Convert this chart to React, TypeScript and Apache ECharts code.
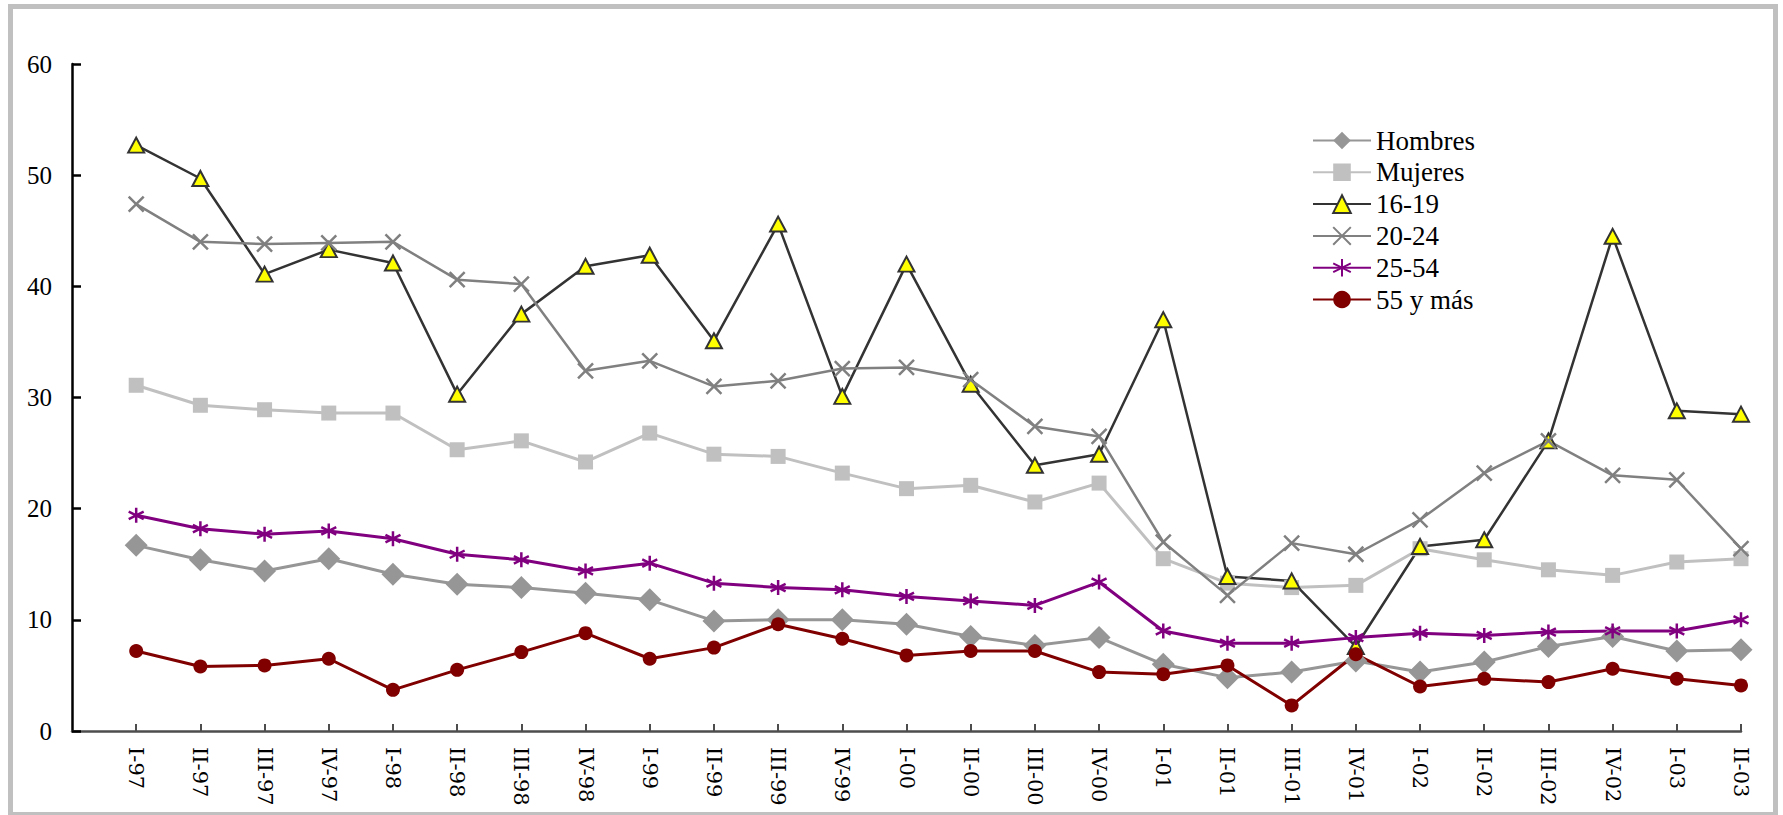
import React, { useEffect, useRef } from "react";
import * as echarts from "echarts";

const categories = [
  "I-97", "II-97", "III-97", "IV-97",
  "I-98", "II-98", "III-98", "IV-98",
  "I-99", "II-99", "III-99", "IV-99",
  "I-00", "II-00", "III-00", "IV-00",
  "I-01", "II-01", "III-01", "IV-01",
  "I-02", "II-02", "III-02", "IV-02",
  "I-03", "II-03",
];

const hombres = [16.7, 15.4, 14.4, 15.5, 14.1, 13.2, 12.9, 12.4, 11.8, 9.9, 10.0, 10.0, 9.6, 8.5, 7.7, 8.4, 6.0, 4.8, 5.3, 6.3, 5.3, 6.2, 7.6, 8.5, 7.2, 7.3];
const mujeres = [31.1, 29.3, 28.9, 28.6, 28.6, 25.3, 26.1, 24.2, 26.8, 24.9, 24.7, 23.2, 21.8, 22.1, 20.6, 22.3, 15.5, 13.3, 12.9, 13.1, 16.4, 15.4, 14.5, 14.0, 15.2, 15.5];
const age16_19 = [52.7, 49.7, 41.1, 43.3, 42.1, 30.3, 37.5, 41.8, 42.8, 35.1, 45.6, 30.1, 42.0, 31.2, 23.9, 24.9, 37.0, 13.9, 13.5, 7.6, 16.6, 17.2, 26.1, 44.5, 28.8, 28.5];
const age20_24 = [47.4, 44.0, 43.8, 43.9, 44.0, 40.6, 40.2, 32.4, 33.3, 31.0, 31.5, 32.6, 32.7, 31.6, 27.4, 26.5, 17.0, 12.2, 16.9, 15.9, 19.0, 23.2, 26.1, 23.0, 22.6, 16.4];
const age25_54 = [19.4, 18.2, 17.7, 18.0, 17.3, 15.9, 15.4, 14.4, 15.1, 13.3, 12.9, 12.7, 12.1, 11.7, 11.3, 13.4, 9.0, 7.9, 7.9, 8.4, 8.8, 8.6, 8.9, 9.0, 9.0, 10.0];
const age55plus = [7.2, 5.8, 5.9, 6.5, 3.7, 5.5, 7.1, 8.8, 6.5, 7.5, 9.6, 8.3, 6.8, 7.2, 7.2, 5.3, 5.1, 5.9, 2.3, 6.9, 4.0, 4.7, 4.4, 5.6, 4.7, 4.1];

const yTicks = { min: 0, max: 60, interval: 10 };

const X_PATH = "path://M0,0L10,10M10,0L0,10";
const STAR_PATH = "path://M5,0L5,10M0,2.5L10,7.5M0,7.5L10,2.5";

export default function App() {
  const ref = useRef<HTMLDivElement>(null);

  useEffect(() => {
    if (!ref.current) return;
    const chart = echarts.init(ref.current, null, { renderer: "svg" });
    const pad = (arr: number[]) => [null, ...arr];
    const serif = "'Liberation Serif', 'Times New Roman', serif";

    const option: any = {
      animation: false,
      backgroundColor: "#ffffff",
      graphic: [
        {
          type: "rect",
          shape: { x: 10.5, y: 6.5, width: 1765, height: 808 },
          style: { fill: "none", stroke: "#c0c0c0", lineWidth: 5 },
          silent: true,
          z: -1,
        },
      ],
      grid: { left: 72, right: 42, top: 64, bottom: 84, containLabel: false },
      legend: {
        orient: "vertical",
        left: 1312,
        top: 127,
        padding: 0,
        itemWidth: 58,
        itemHeight: 22,
        itemGap: 4.8,
        textStyle: { fontFamily: serif, fontSize: 27, color: "#000", lineHeight: 26 },
        data: ["Hombres", "Mujeres", "16-19", "20-24", "25-54", "55 y más"],
      },
      xAxis: {
        type: "category",
        boundaryGap: false,
        data: ["", ...categories],
        axisLine: { lineStyle: { color: "#4d4d4d", width: 2.5 } },
        axisTick: {
          inside: true,
          length: 7,
          lineStyle: { color: "#4d4d4d", width: 2 },
          interval: (i: number) => i > 0,
        },
        axisLabel: {
          rotate: -90,
          margin: 16,
          interval: 0,
          fontFamily: "'DejaVu Serif', serif",
          fontSize: 21,
          color: "#000",
        },
        splitLine: { show: false },
      },
      yAxis: {
        type: "value",
        min: yTicks.min,
        max: yTicks.max,
        interval: yTicks.interval,
        axisLine: { show: true, lineStyle: { color: "#000", width: 2.5 } },
        axisTick: { show: true, inside: true, length: 9, lineStyle: { color: "#000", width: 2.5 } },
        axisLabel: { margin: 20, fontFamily: serif, fontSize: 25, color: "#000" },
        splitLine: { show: false },
      },
      series: [
        {
          name: "Hombres",
          type: "line",
          data: pad(hombres),
          symbol: "diamond",
          symbolSize: 23,
          lineStyle: { color: "#969696", width: 3 },
          itemStyle: { color: "#969696" },
        },
        {
          name: "Mujeres",
          type: "line",
          data: pad(mujeres),
          symbol: "rect",
          symbolSize: 15,
          lineStyle: { color: "#c0c0c0", width: 3 },
          itemStyle: { color: "#c0c0c0" },
        },
        {
          name: "16-19",
          type: "line",
          data: pad(age16_19),
          symbol: "triangle",
          symbolSize: [16, 15],
          lineStyle: { color: "#333333", width: 2.5 },
          itemStyle: { color: "#ffff00", borderColor: "#333333", borderWidth: 2 },
        },
        {
          name: "20-24",
          type: "line",
          data: pad(age20_24),
          symbol: X_PATH,
          symbolSize: 15,
          lineStyle: { color: "#808080", width: 2.5 },
          itemStyle: { color: "#808080", borderColor: "#808080", borderWidth: 2.5 },
        },
        {
          name: "25-54",
          type: "line",
          data: pad(age25_54),
          symbol: STAR_PATH,
          symbolSize: 15,
          lineStyle: { color: "#800080", width: 3 },
          itemStyle: { color: "#800080", borderColor: "#800080", borderWidth: 2.5 },
        },
        {
          name: "55 y más",
          type: "line",
          data: pad(age55plus),
          symbol: "circle",
          symbolSize: 14,
          lineStyle: { color: "#800000", width: 3 },
          itemStyle: { color: "#800000" },
        },
      ],
    };

    chart.setOption(option);
    return () => chart.dispose();
  }, []);

  return (
    <div
      ref={ref}
      style={{ position: "absolute", left: 0, top: 0, width: 1783, height: 815, background: "#fff" }}
    />
  );
}
